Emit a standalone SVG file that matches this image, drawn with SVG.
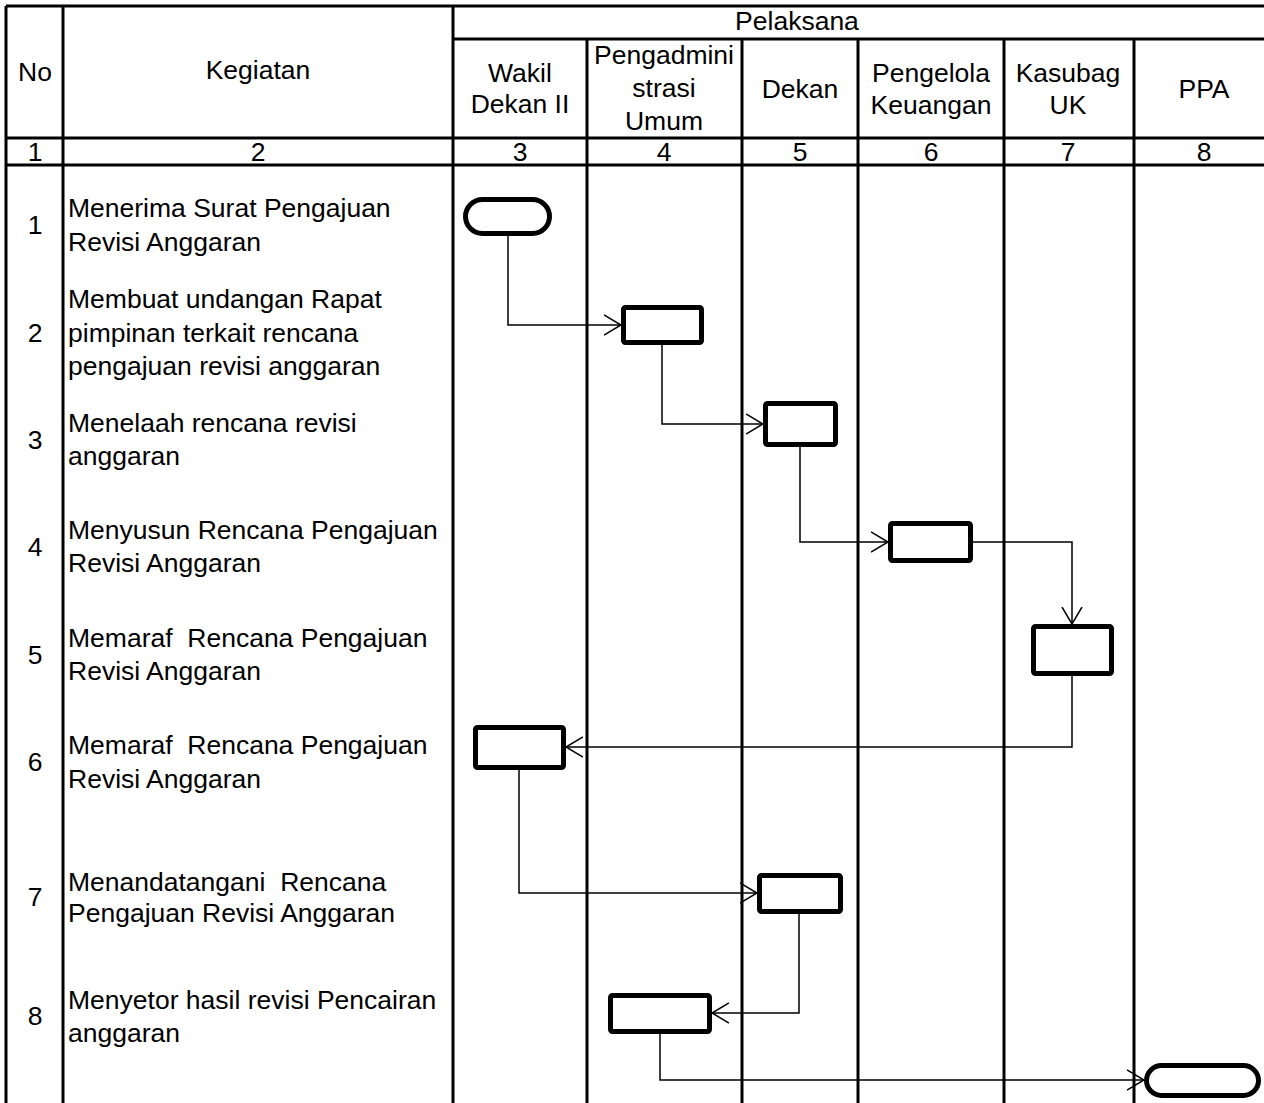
<svg xmlns="http://www.w3.org/2000/svg" width="1264" height="1103" viewBox="0 0 1264 1103">
<style>
text{font-family:"Liberation Sans",Arial,sans-serif;font-size:26.5px;fill:#000;white-space:pre}
.c{text-anchor:middle}
.grid line{stroke:#000;stroke-width:3}
.node rect{fill:#fff;stroke:#000;stroke-width:5}
.conn path{fill:none;stroke:#000;stroke-width:1.5}
</style>
<defs>
<marker id="arr" markerUnits="userSpaceOnUse" markerWidth="20" markerHeight="24" refX="17" refY="11" orient="auto">
<path d="M0,1 L17,11 L0,21" fill="none" stroke="#000" stroke-width="1.5"/>
</marker>
</defs>
<rect width="1264" height="1103" fill="#fff"/>
<g class="grid">
<line x1="6" y1="6" x2="1264" y2="6"/>
<line x1="453" y1="39" x2="1264" y2="39"/>
<line x1="6" y1="138" x2="1264" y2="138"/>
<line x1="6" y1="165" x2="1264" y2="165"/>
<line x1="6" y1="6" x2="6" y2="1103"/>
<line x1="63" y1="6" x2="63" y2="1103"/>
<line x1="453" y1="6" x2="453" y2="1103"/>
<line x1="587" y1="39" x2="587" y2="1103"/>
<line x1="742" y1="39" x2="742" y2="1103"/>
<line x1="858" y1="39" x2="858" y2="1103"/>
<line x1="1004" y1="39" x2="1004" y2="1103"/>
<line x1="1134" y1="39" x2="1134" y2="1103"/>
</g>
<g id="header">
<text class="c" x="797" y="30">Pelaksana</text>
<text class="c" x="35" y="81">No</text>
<text class="c" x="258" y="79">Kegiatan</text>
<text class="c" x="520" y="82">Wakil</text>
<text class="c" x="520" y="113">Dekan II</text>
<text class="c" x="664" y="64">Pengadmini</text>
<text class="c" x="664" y="97">strasi</text>
<text class="c" x="664" y="130">Umum</text>
<text class="c" x="800" y="98">Dekan</text>
<text class="c" x="931" y="82">Pengelola</text>
<text class="c" x="931" y="114">Keuangan</text>
<text class="c" x="1068" y="82">Kasubag</text>
<text class="c" x="1068" y="114">UK</text>
<text class="c" x="1204" y="98">PPA</text>
<text class="c" x="35" y="161">1</text>
<text class="c" x="258" y="161">2</text>
<text class="c" x="520" y="161">3</text>
<text class="c" x="664" y="161">4</text>
<text class="c" x="800" y="161">5</text>
<text class="c" x="931" y="161">6</text>
<text class="c" x="1068" y="161">7</text>
<text class="c" x="1204" y="161">8</text>
</g>
<g id="rows">
<text class="c" x="35" y="234">1</text>
<text x="68" y="217">Menerima Surat Pengajuan</text>
<text x="68" y="251">Revisi Anggaran</text>
<text class="c" x="35" y="342">2</text>
<text x="68" y="308">Membuat undangan Rapat</text>
<text x="68" y="342">pimpinan terkait rencana</text>
<text x="68" y="375">pengajuan revisi anggaran</text>
<text class="c" x="35" y="449">3</text>
<text x="68" y="432">Menelaah rencana revisi</text>
<text x="68" y="465">anggaran</text>
<text class="c" x="35" y="556">4</text>
<text x="68" y="539">Menyusun Rencana Pengajuan</text>
<text x="68" y="572">Revisi Anggaran</text>
<text class="c" x="35" y="664">5</text>
<text x="68" y="647">Memaraf  Rencana Pengajuan</text>
<text x="68" y="680">Revisi Anggaran</text>
<text class="c" x="35" y="771">6</text>
<text x="68" y="754">Memaraf  Rencana Pengajuan</text>
<text x="68" y="788">Revisi Anggaran</text>
<text class="c" x="35" y="906">7</text>
<text x="68" y="891">Menandatangani  Rencana</text>
<text x="68" y="922">Pengajuan Revisi Anggaran</text>
<text class="c" x="35" y="1025">8</text>
<text x="68" y="1009">Menyetor hasil revisi Pencairan</text>
<text x="68" y="1042">anggaran</text>
</g>
<g id="connectors" class="conn">
<path d="M508,236 V325 H621" marker-end="url(#arr)"/>
<path d="M662,345 V424 H763" marker-end="url(#arr)"/>
<path d="M800,447 V542 H888" marker-end="url(#arr)"/>
<path d="M973,542 H1072 V624" marker-end="url(#arr)"/>
<path d="M1072,676 V747 H566" marker-end="url(#arr)"/>
<path d="M519,770 V893 H757" marker-end="url(#arr)"/>
<path d="M799,914 V1013 H712" marker-end="url(#arr)"/>
<path d="M660,1034 V1080 H1144" marker-end="url(#arr)"/>
</g>
<g id="start" class="node"><rect x="465.5" y="199.5" width="84" height="34" rx="17"/></g>
<g id="step2" class="node"><rect x="623.5" y="307.5" width="78" height="35" rx="2"/></g>
<g id="step3" class="node"><rect x="765.5" y="403.5" width="70" height="41" rx="2"/></g>
<g id="step4" class="node"><rect x="890.5" y="523.5" width="80" height="37" rx="2"/></g>
<g id="step5" class="node"><rect x="1033.5" y="626.5" width="78" height="47" rx="2"/></g>
<g id="step6" class="node"><rect x="475.5" y="727.5" width="88" height="40" rx="2"/></g>
<g id="step7" class="node"><rect x="759.5" y="875.5" width="81" height="36" rx="2"/></g>
<g id="step8" class="node"><rect x="610.5" y="995.5" width="99" height="36" rx="2"/></g>
<g id="end" class="node"><rect x="1146.5" y="1065.5" width="112" height="30" rx="15"/></g>
</svg>
